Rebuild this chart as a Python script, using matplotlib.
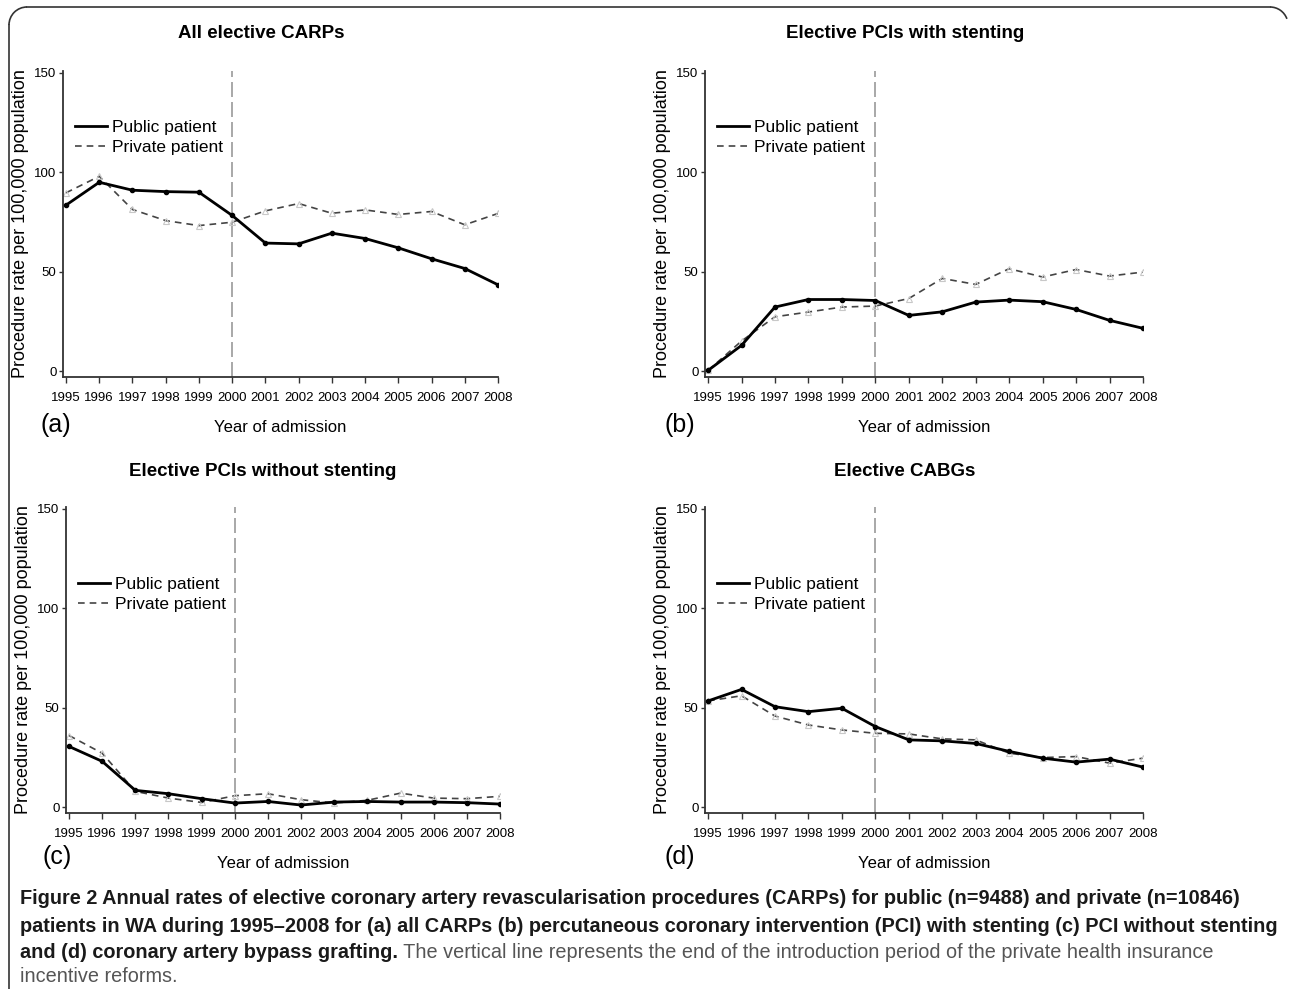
import matplotlib.pyplot as plt
from matplotlib.lines import Line2D
from matplotlib.patches import Arc
from matplotlib.transforms import IdentityTransform

# years on the x axis
years = list(range(1995, 2009))
year_labels = [str(y) for y in years]
y_ticks = [0, 50, 100, 150]

# (a) all elective CARPs
public_all = [83.5, 95.0, 91.0, 90.3, 90.0, 78.3, 64.4, 64.0, 69.4, 66.7, 62.0, 56.5, 51.6, 43.4]
private_all = [89.7, 98.0, 81.3, 75.7, 73.2, 74.9, 80.6, 84.3, 79.4, 81.1, 78.8, 80.3, 73.6, 79.3]

# (b) PCIs with stenting
public_stent = [0.3, 12.9, 32.2, 36.0, 36.0, 35.5, 28.0, 29.8, 34.7, 35.7, 34.9, 31.0, 25.5, 21.5]
private_stent = [0.3, 15.1, 27.3, 29.7, 32.2, 32.7, 36.5, 46.6, 43.6, 51.5, 47.3, 51.1, 47.8, 49.8]

# (c) PCIs without stenting
public_nostent = [30.5, 23.0, 8.4, 6.7, 4.2, 2.0, 2.8, 1.0, 2.5, 2.8, 2.5, 2.5, 2.2, 1.5]
private_nostent = [36.0, 27.1, 7.9, 4.5, 2.3, 5.7, 6.7, 3.7, 2.0, 3.4, 7.0, 4.5, 4.2, 5.4]

# (d) CABGs
public_cabg = [53.4, 59.2, 50.5, 48.0, 49.7, 40.5, 33.8, 33.3, 32.0, 28.0, 24.6, 22.6, 24.1, 20.1]
private_cabg = [53.4, 56.0, 45.8, 41.3, 38.8, 37.1, 36.8, 34.3, 33.8, 27.1, 24.9, 25.4, 22.1, 24.6]

titles = ["All elective CARPs", "Elective PCIs with stenting",
          "Elective PCIs without stenting", "Elective CABGs"]
tags = ["(a)", "(b)", "(c)", "(d)"]
reform_year = 2000

caption_bold = [
    "Figure 2 Annual rates of elective coronary artery revascularisation procedures (CARPs) for public (n=9488) and private (n=10846)",
    "patients in WA during 1995\u20132008 for (a) all CARPs (b) percutaneous coronary intervention (PCI) with stenting (c) PCI without stenting",
    "and (d) coronary artery bypass grafting.",
]
caption_plain = [
    " The vertical line represents the end of the introduction period of the private health insurance",
    "incentive reforms.",
]

plt.rcParams["font.family"] = ["Liberation Sans", "DejaVu Sans"]

W, H = 1290, 989
fig = plt.figure(figsize=(12.9, 9.89), dpi=100)

# outer frame in pixels: top edge, left edge and two rounded corners
px = IdentityTransform()
frame_kw = dict(color="#333333", linewidth=1.2, transform=px)
rad = 18
top = H - 7
fig.lines.append(Line2D([9 + rad, 1288 - rad], [top, top], **frame_kw))
fig.lines.append(Line2D([9, 9], [top - rad, -10], **frame_kw))
fig.patches.append(Arc((9 + rad, top - rad), 2 * rad, 2 * rad, theta1=90,
                       theta2=180, **frame_kw))
fig.patches.append(Arc((1288 - rad, top - rad), 2 * rad, 2 * rad, theta1=20,
                       theta2=90, **frame_kw))

# axes boxes in pixels: left, right, top, bottom
boxes = [(62.7, 498, 71, 377), (704.7, 1143, 71, 377),
         (65.7, 500, 507, 813), (704.7, 1143, 507, 813)]
panel_mid = [261, 905, 263, 905]
title_y = [33, 33, 472, 472]
tag_x = [40, 665, 42, 665]
tag_y = [425, 425, 857, 857]
legend_y = [0.8405, 0.8405, 0.7725, 0.7725]
series = [(public_all, private_all), (public_stent, private_stent),
          (public_nostent, private_nostent), (public_cabg, private_cabg)]

for i, (l, r, t, b) in enumerate(boxes):
    ax = fig.add_axes([l / W, 1 - b / H, (r - l) / W, (b - t) / H])
    pub, priv = series[i]
    ax.axvline(reform_year, color="#999999", linewidth=1.2, dashes=(9, 3), zorder=1)
    ax.plot(years, priv, color="#444444", linewidth=1.2, dashes=(4, 3),
            marker="^", markersize=4, markerfacecolor="none",
            markeredgecolor="#c8c8c8", markeredgewidth=0.8, zorder=2)
    ax.plot(years, pub, color="black", linewidth=2.0, marker="o",
            markersize=3, zorder=3)

    ax.set_xlim(1994.9, 2008)
    ax.set_ylim(-3, 151)
    ax.set_xticks(years)
    ax.set_xticklabels(year_labels, fontsize=9.5)
    ax.set_yticks(y_ticks)
    ax.set_yticklabels([str(v) for v in y_ticks], fontsize=9.5)
    ax.tick_params(axis="x", length=4, width=1, pad=7, color="#333333")
    ax.tick_params(axis="y", length=3, width=1, pad=1.5, color="#333333")
    for side in ["top", "right"]:
        ax.spines[side].set_visible(False)
    for side in ["left", "bottom"]:
        ax.spines[side].set_linewidth(1.3)
        ax.spines[side].set_color("#333333")
    ax.set_ylabel("Procedure rate per 100,000 population", fontsize=13, labelpad=4)
    ax.set_xlabel("Year of admission", fontsize=12, labelpad=11)

    handles = [Line2D([], [], color="black", linewidth=2.0),
               Line2D([], [], color="#444444", linewidth=1.2, dashes=(4, 3))]
    ax.legend(handles, ["Public patient", "Private patient"], frameon=False,
              loc="upper left", bbox_to_anchor=(0.028, legend_y[i]),
              fontsize=12.5, handlelength=1.85, handletextpad=0.3,
              labelspacing=0.27, borderpad=0, borderaxespad=0)

    fig.text(panel_mid[i] / W, 1 - title_y[i] / H, titles[i], ha="center",
             va="center", fontsize=13.5, fontweight="bold")
    fig.text(tag_x[i] / W, 1 - tag_y[i] / H, tags[i], ha="left", va="center",
             fontsize=18)

# caption
line_y = [899, 926, 953, 977]
cap_size = 14.3
for k, txt in enumerate(caption_bold):
    t = fig.text(20 / W, 1 - line_y[k] / H, txt, ha="left", va="center",
                 fontsize=cap_size, fontweight="bold", color="#1a1a1a")
fig.canvas.draw()
renderer = fig.canvas.get_renderer()
end_x = t.get_window_extent(renderer).x1 / W
fig.text(end_x, 1 - line_y[2] / H, caption_plain[0], ha="left", va="center",
         fontsize=cap_size, color="#555555")
fig.text(20 / W, 1 - line_y[3] / H, caption_plain[1], ha="left", va="center",
         fontsize=cap_size, color="#555555")

fig.savefig("out.png", dpi=100)
